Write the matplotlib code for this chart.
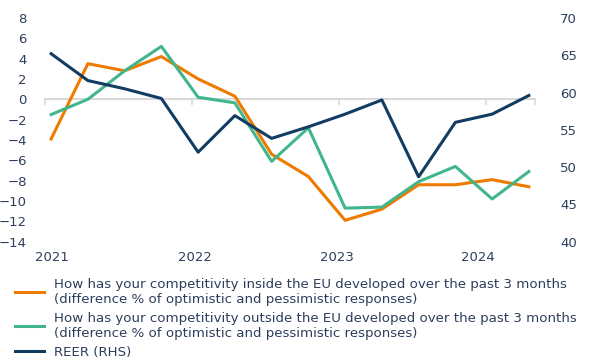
import numpy as np
import matplotlib.pyplot as plt
from matplotlib.ticker import MultipleLocator

# quarterly survey, Q1 2021 - Q2 2024
quarters = ['2021Q1', '2021Q2', '2021Q3', '2021Q4',
            '2022Q1', '2022Q2', '2022Q3', '2022Q4',
            '2023Q1', '2023Q2', '2023Q3', '2023Q4',
            '2024Q1', '2024Q2']
inside_eu = [-3.9, 3.5, 2.8, 4.2, 2.0, 0.3, -5.4, -7.6, -11.9, -10.8, -8.4, -8.4, -7.9, -8.6]
outside_eu = [-1.5, 0.0, 2.8, 5.2, 0.2, -0.35, -6.1, -2.8, -10.7, -10.6, -8.1, -6.6, -9.8, -7.1]
reer = [65.2, 61.6, 60.5, 59.2, 52.0, 56.9, 53.85, 55.4, 57.1, 59.0, 48.7, 56.0, 57.1, 59.6]
years = ['2021', '2022', '2023', '2024']

labels = ["How has your competitivity inside the EU developed over the past 3 months\n"
          "(difference % of optimistic and pessimistic responses)",
          "How has your competitivity outside the EU developed over the past 3 months\n"
          "(difference % of optimistic and pessimistic responses)",
          "REER (RHS)"]

ORANGE = '#ef7a00'
GREEN = '#41b68c'
NAVY = '#123c61'
TXT = '#2d3e5c'
GRID = '#d9d9d9'

# month axis: each quarter sits in the middle of its first month
x = np.arange(len(quarters)) * 3 + 0.5

fig = plt.figure(figsize=(5.9, 3.62), dpi=100)
ax = fig.add_axes([45 / 590, 1 - 241.7 / 362, 490 / 590, 223.8 / 362])
ax2 = ax.twinx()

l1, = ax.plot(x, inside_eu, color=ORANGE, lw=2.2, label=labels[0])
l2, = ax.plot(x, outside_eu, color=GREEN, lw=2.2, label=labels[1])
l3, = ax2.plot(x, reer, color=NAVY, lw=2.2, label=labels[2])

ax.set_xlim(0, 40)
ax.set_ylim(-14, 8)
ax2.set_ylim(40, 70)
ax.yaxis.set_major_locator(MultipleLocator(2))
ax2.yaxis.set_major_locator(MultipleLocator(5))

for a in (ax, ax2):
    for s in a.spines.values():
        s.set_visible(False)

# zero line with year tick marks
zero = ax.secondary_xaxis(14 / 22)
zero.set_alignment('bottom')
zero.spines['bottom'].set_color(GRID)
zero.spines['bottom'].set_linewidth(1.5)
zero.set_xticks([0, 12, 24, 36, 40])
zero.tick_params(axis='x', direction='out', length=4, width=1.2, color=GRID,
                 labelbottom=False, labeltop=False)

ax.set_xticks([0.6, 12.2, 23.8, 35.3])
ax.set_xticklabels(years)
ax.tick_params(axis='x', length=0, pad=7, labelsize=9.5, labelcolor=TXT)
ax.tick_params(axis='y', length=0, pad=13, labelsize=9.5, labelcolor=TXT)
ax2.tick_params(axis='y', length=0, pad=18, labelsize=9.5, labelcolor=TXT)

fig.legend(handles=[l1, l2, l3], loc='upper left', bbox_to_anchor=(0.025, 0.232),
           frameon=False, fontsize=9.6, labelcolor=TXT, handlelength=2.2,
           handletextpad=0.75, labelspacing=0.45, borderaxespad=0, borderpad=0)

fig.savefig('out.png', dpi=100)
